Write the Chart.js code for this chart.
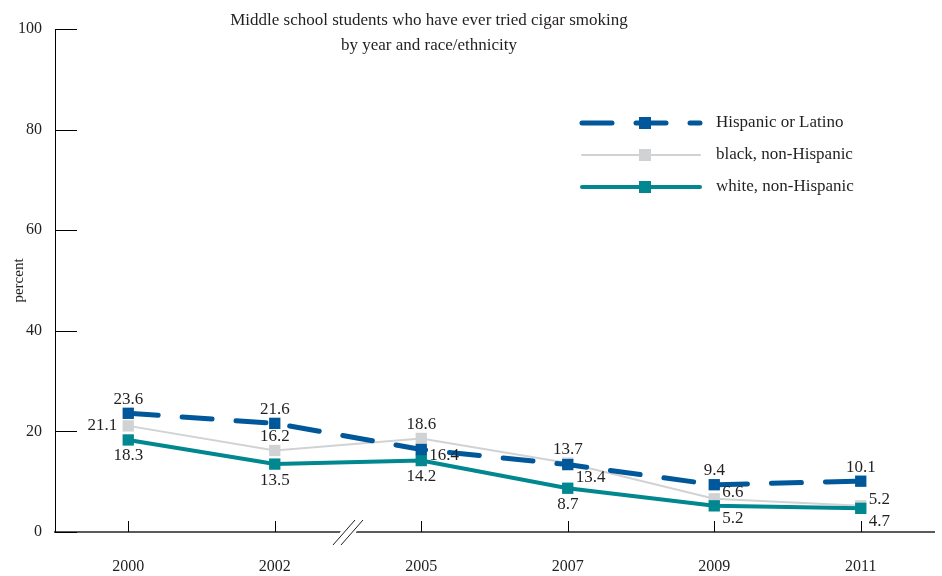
<!DOCTYPE html>
<html>
<head>
<meta charset="utf-8">
<script src="https://cdn.jsdelivr.net/npm/chart.js@4"></script>
<style>
  html, body { margin: 0; padding: 0; background: #fff; }
  #wrap { width: 942px; height: 576px; }
</style>
</head>
<body>
<div id="wrap"><canvas id="cigarChart" width="942" height="576"></canvas></div>
<script>
// Data
const years = ['2000', '2002', '2005', '2007', '2009', '2011'];
const hispanic = [23.6, 21.6, 16.4, 13.4, 9.4, 10.1];
const black = [21.1, 16.2, 18.6, 13.7, 6.6, 5.2];
const white = [18.3, 13.5, 14.2, 8.7, 5.2, 4.7];
const yTicks = [0, 20, 40, 60, 80, 100];
const seriesNames = ['Hispanic or Latino', 'black, non-Hispanic', 'white, non-Hispanic'];

// where each value label sits relative to its point
const hispanicLabelPos = ['above', 'above', 'right', 'rightDown', 'above', 'above'];
const blackLabelPos = ['left', 'above', 'above', 'above', 'rightUp', 'rightUp'];
const whiteLabelPos = ['below', 'below', 'below', 'below', 'rightDown', 'rightDown'];

const FONT = "'Liberation Serif', 'DejaVu Serif', serif";
const TEXT = '#231f20';
const BLUE = '#00579a';
const GRAY = '#d1d2d4';
const TEAL = '#00878f';

const placements = {
    above: [0, -14, 'center'],
    below: [0, 16, 'center'],
    left: [-11, 0, 'right'],
    right: [8, 6, 'left'],
    rightUp: [8, -6, 'left'],
    rightDown: [8, 13, 'left']
};

// value labels next to points
const valueLabels = {
    id: 'valueLabels',
    afterDatasetsDraw(chart) {
        const ctx = chart.ctx;
        ctx.save();
        ctx.font = '17px ' + FONT;
        ctx.fillStyle = TEXT;
        ctx.textBaseline = 'middle';
        chart.data.datasets.forEach((ds, di) => {
            const meta = chart.getDatasetMeta(di);
            meta.data.forEach((pt, i) => {
                const p = placements[ds.labelPos[i]];
                ctx.textAlign = p[2];
                ctx.fillText(ds.data[i].toFixed(1), pt.x + p[0], pt.y + p[1]);
            });
        });
        ctx.restore();
    }
};

// inward tick marks, axis break, title and legend
const decorations = {
    id: 'decorations',
    afterDraw(chart) {
        const ctx = chart.ctx;
        const xs = chart.scales.x;
        const ys = chart.scales.y;
        const area = chart.chartArea;
        ctx.save();

        // y ticks
        ctx.strokeStyle = '#000';
        ctx.lineWidth = 1;
        yTicks.forEach(v => {
            const y = Math.round(ys.getPixelForValue(v)) + 0.5;
            ctx.beginPath();
            ctx.moveTo(area.left, y);
            ctx.lineTo(area.left + 22, y);
            ctx.stroke();
        });

        // x ticks
        years.forEach((yr, i) => {
            const x = Math.round(xs.getPixelForValue(i)) + 0.5;
            ctx.beginPath();
            ctx.moveTo(x, area.bottom);
            ctx.lineTo(x, area.bottom - 11);
            ctx.stroke();
        });

        // axis break between 2002 and 2005
        const bx = xs.getPixelForValue(1.5);
        ctx.fillStyle = '#fff';
        ctx.beginPath();
        ctx.moveTo(bx - 14, area.bottom + 13);
        ctx.lineTo(bx + 2, area.bottom + 13);
        ctx.lineTo(bx + 14, area.bottom - 12);
        ctx.lineTo(bx - 2, area.bottom - 12);
        ctx.closePath();
        ctx.fill();
        ctx.strokeStyle = '#231f20';
        ctx.lineWidth = 1;
        [-4, 4].forEach(o => {
            ctx.beginPath();
            ctx.moveTo(bx - 11 + o, area.bottom + 13);
            ctx.lineTo(bx + 11 + o, area.bottom - 12);
            ctx.stroke();
        });

        // title
        ctx.fillStyle = TEXT;
        ctx.font = '17px ' + FONT;
        ctx.textAlign = 'center';
        ctx.textBaseline = 'middle';
        ctx.fillText('Middle school students who have ever tried cigar smoking', 429, 21);
        ctx.fillText('by year and race/ethnicity', 429, 46);

        // legend
        const rows = [123, 155, 187];
        const lx0 = 582, lx1 = 700, mx = 645;
        chart.data.datasets.forEach((ds, di) => {
            const y = rows[di];
            ctx.strokeStyle = ds.borderColor;
            ctx.lineWidth = ds.borderWidth;
            ctx.lineCap = 'round';
            ctx.setLineDash(ds.borderDash || []);
            ctx.beginPath();
            ctx.moveTo(lx0, y);
            ctx.lineTo(lx1, y);
            ctx.stroke();
            ctx.setLineDash([]);
            ctx.fillStyle = ds.pointBackgroundColor;
            ctx.fillRect(mx - 6, y - 6, 12, 12);
            ctx.fillStyle = TEXT;
            ctx.font = '17px ' + FONT;
            ctx.textAlign = 'left';
            ctx.fillText(seriesNames[di], 716, y);
        });

        ctx.restore();
    }
};

const ctxChart = document.getElementById('cigarChart').getContext('2d');
const cigarChart = new Chart(ctxChart, {
    type: 'line',
    data: {
        labels: years,
        datasets: [{
            label: seriesNames[0],
            data: hispanic,
            labelPos: hispanicLabelPos,
            borderColor: BLUE,
            borderWidth: 5,
            borderDash: [30, 24],
            borderCapStyle: 'round',
            pointStyle: 'rect',
            pointRadius: 8,
            pointBackgroundColor: BLUE,
            pointBorderWidth: 0,
            order: 1
        }, {
            label: seriesNames[1],
            data: black,
            labelPos: blackLabelPos,
            borderColor: GRAY,
            borderWidth: 2,
            pointStyle: 'rect',
            pointRadius: 8,
            pointBackgroundColor: GRAY,
            pointBorderWidth: 0,
            order: 3
        }, {
            label: seriesNames[2],
            data: white,
            labelPos: whiteLabelPos,
            borderColor: TEAL,
            borderWidth: 4,
            pointStyle: 'rect',
            pointRadius: 8,
            pointBackgroundColor: TEAL,
            pointBorderWidth: 0,
            order: 2
        }]
    },
    options: {
        responsive: false,
        animation: false,
        layout: { padding: { top: 29, right: 5, left: 0, bottom: 0 } },
        plugins: {
            legend: { display: false },
            title: { display: false },
            tooltip: { enabled: false }
        },
        scales: {
            x: {
                offset: true,
                grid: { display: false, drawTicks: false },
                border: { color: '#5a5a5a', width: 2 },
                ticks: { color: TEXT, font: { family: FONT, size: 16 }, padding: 25, maxRotation: 0 },
                afterFit(scale) { scale.height = 44; }
            },
            y: {
                min: 0,
                max: 100,
                grid: { display: false, drawTicks: false },
                border: { color: '#000', width: 1 },
                ticks: { stepSize: 20, color: TEXT, font: { family: FONT, size: 16 }, padding: 13 },
                title: { display: true, text: 'percent', color: TEXT, font: { family: FONT, size: 15 }, padding: { top: 10, bottom: 0 } },
                afterFit(scale) { scale.width = 55; }
            }
        }
    },
    plugins: [valueLabels, decorations]
});
</script>
</body>
</html>
